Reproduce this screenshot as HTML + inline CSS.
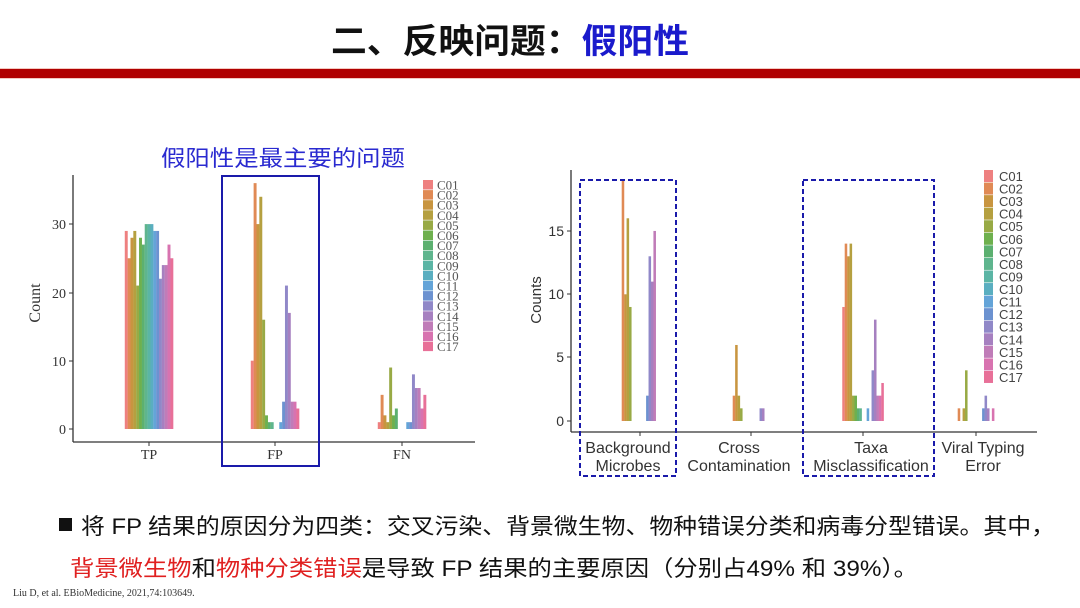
<!DOCTYPE html>
<html><head><meta charset="utf-8">
<style>
html,body{margin:0;padding:0;background:#fff;}
body{width:1080px;height:608px;overflow:hidden;position:relative;font-family:"Liberation Sans","Noto Sans CJK SC",sans-serif;}
</style></head>
<body>
<svg id="s" width="1080" height="608" xmlns="http://www.w3.org/2000/svg" style="position:absolute;left:0;top:0">
<rect x="0" y="68" width="1080" height="11" fill="#f3c8c0"/>
<rect x="0" y="69" width="1080" height="9" fill="#b00000"/>
<text x="331" y="53" textLength="358" lengthAdjust="spacingAndGlyphs" font-size="34" font-weight="bold" font-family="'Noto Sans CJK SC',sans-serif"><tspan fill="#111">二、反映问题：</tspan><tspan fill="#1a1acc">假阳性</tspan></text>
<text x="161" y="166" textLength="244" lengthAdjust="spacingAndGlyphs" font-size="22" fill="#2a2ad0" font-family="'Noto Sans CJK SC',sans-serif">假阳性是最主要的问题</text>
<g id="L"></g>
<g id="R"></g>
<rect x="59" y="518" width="13" height="13" fill="#111"/>
<text x="81" y="534" textLength="974" lengthAdjust="spacingAndGlyphs" font-size="22" fill="#111" font-family="'Liberation Sans','Noto Sans CJK SC',sans-serif">将 FP 结果的原因分为四类：交叉污染、背景微生物、物种错误分类和病毒分型错误。其中，</text>
<text x="70" y="576" textLength="848" lengthAdjust="spacingAndGlyphs" font-size="22" fill="#111" font-family="'Liberation Sans','Noto Sans CJK SC',sans-serif"><tspan fill="#e02020">背景微生物</tspan>和<tspan fill="#e02020">物种分类错误</tspan>是导致 FP 结果的主要原因（分别占49% 和 39%）。</text>
<text x="13" y="596" font-size="10" fill="#333" font-family="'Liberation Serif',serif">Liu D, et al. EBioMedicine, 2021,74:103649.</text>
</svg>
<script>
var C=["#ee8080","#e08a55","#c89540","#b5a040","#98aa45","#6eb04e","#5cb070","#5fb58e","#5bb5a5","#5aaec0","#64a4d8","#6c92d0","#9088c8","#a680c0","#c07cb8","#d873b0","#e87098"];
var NS="http://www.w3.org/2000/svg";
function el(p,t,a,txt){var e=document.createElementNS(NS,t);for(var k in a)e.setAttribute(k,a[k]);if(txt!==undefined)e.textContent=txt;p.appendChild(e);return e;}
var L=document.getElementById("L");
el(L,"line",{x1:73,y1:175,x2:73,y2:442,stroke:"#333","stroke-width":1.3});
el(L,"line",{x1:73,y1:442,x2:475,y2:442,stroke:"#333","stroke-width":1.3});
[[0,429],[10,361],[20,293],[30,224]].forEach(function(t){el(L,"line",{x1:69,y1:t[1],x2:73,y2:t[1],stroke:"#333"});el(L,"text",{x:66,y:t[1]+5,"text-anchor":"end","font-size":14,fill:"#333","font-family":"'Liberation Serif',serif"},t[0]);});
el(L,"text",{x:40,y:303,"text-anchor":"middle","font-size":16,fill:"#333","font-family":"'Liberation Serif',serif",transform:"rotate(-90 40 303)"},"Count");
var LD=[[29,25,28,29,21,28,27,30,30,30,29,29,22,24,24,27,25],[10,36,30,34,16,2,1,1,0,0,1,4,21,17,4,4,3],[1,5,2,1,9,2,3,0,0,0,1,1,8,6,6,3,5]];
var Lc=[149,275,402],Ln=["TP","FP","FN"];
LD.forEach(function(g,gi){var bw=2.85,x0=Lc[gi]-bw*8.5;
 g.forEach(function(v,i){if(v>0)el(L,"rect",{x:x0+i*bw,y:429-v*6.83,width:bw+0.1,height:v*6.83,fill:C[i]});});
 el(L,"line",{x1:Lc[gi],y1:442,x2:Lc[gi],y2:446,stroke:"#333"});
 el(L,"text",{x:Lc[gi],y:459,"text-anchor":"middle","font-size":14,fill:"#333","font-family":"'Liberation Serif',serif"},Ln[gi]);});
el(L,"rect",{x:222,y:176,width:97,height:290,fill:"none",stroke:"#1a1aaa","stroke-width":2});
for(var i=0;i<17;i++){var y=180+i*10.1;el(L,"rect",{x:423,y:y,width:10,height:9.5,fill:C[i]});el(L,"text",{x:437,y:y+9.5,"font-size":13,fill:"#555","font-family":"'Liberation Serif',serif"},"C"+(i<9?"0":"")+(i+1));}
var R=document.getElementById("R");
el(R,"line",{x1:571,y1:170,x2:571,y2:432,stroke:"#333","stroke-width":1.3});
el(R,"line",{x1:571,y1:432,x2:1037,y2:432,stroke:"#333","stroke-width":1.3});
[[0,421],[5,357],[10,294],[15,231]].forEach(function(t){el(R,"line",{x1:567,y1:t[1],x2:571,y2:t[1],stroke:"#333"});el(R,"text",{x:564,y:t[1]+5,"text-anchor":"end","font-size":14,fill:"#333"},t[0]);});
el(R,"text",{x:541,y:300,"text-anchor":"middle","font-size":15,fill:"#333",transform:"rotate(-90 541 300)"},"Counts");
var RD=[[0,19,10,16,9,0,0,0,0,0,0,2,13,11,15,0,0],[0,2,6,2,1,0,0,0,0,0,0,0,1,1,0,0,0],[9,14,13,14,2,2,1,1,0,0,1,0,4,8,2,2,3],[0,1,0,1,4,0,0,0,0,0,0,1,2,1,0,1,0]];
var Rc=[640,751,863,976];
RD.forEach(function(g,gi){var bw=2.44,x0=Rc[gi]-bw*8.5;
 g.forEach(function(v,i){if(v>0)el(R,"rect",{x:x0+i*bw,y:421-v*12.67,width:bw+0.1,height:v*12.67,fill:C[i]});});
 el(R,"line",{x1:Rc[gi],y1:432,x2:Rc[gi],y2:436,stroke:"#333"});});
[["Background","Microbes",628],["Cross","Contamination",739],["Taxa","Misclassification",871],["Viral Typing","Error",983]].forEach(function(l){
 el(R,"text",{x:l[2],y:453,"text-anchor":"middle","font-size":16,fill:"#333"},l[0]);
 el(R,"text",{x:l[2],y:471,"text-anchor":"middle","font-size":16,fill:"#333"},l[1]);});
el(R,"rect",{x:580,y:180,width:96,height:296,fill:"none",stroke:"#1a1aaa","stroke-width":2,"stroke-dasharray":"5,3"});
el(R,"rect",{x:803,y:180,width:131,height:296,fill:"none",stroke:"#1a1aaa","stroke-width":2,"stroke-dasharray":"5,3"});
for(var i=0;i<17;i++){var y=170+i*12.56;el(R,"rect",{x:984,y:y,width:9,height:12,fill:C[i]});el(R,"text",{x:999,y:y+11,"font-size":13,fill:"#444"},"C"+(i<9?"0":"")+(i+1));}
</script>
</body></html>
